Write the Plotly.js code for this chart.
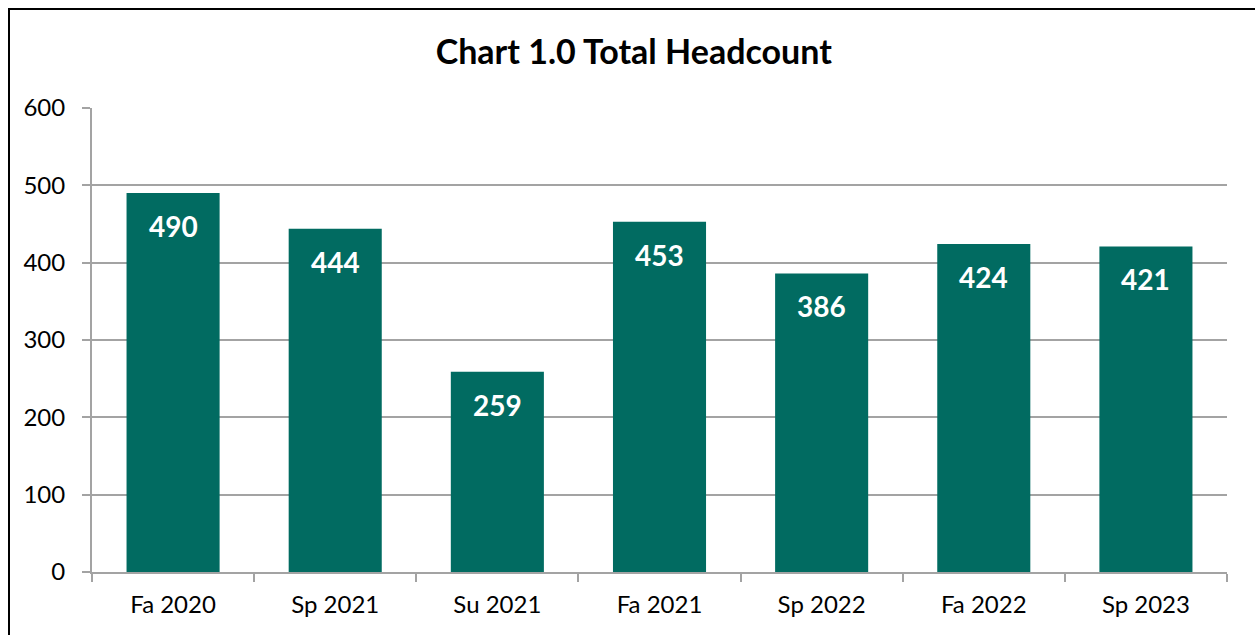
<!DOCTYPE html>
<html>
<head>
<meta charset="utf-8">
<script src="https://cdn.plot.ly/plotly-3.0.1.min.js"></script>
<style>
html,body{margin:0;padding:0;background:#fff;}
#chart{width:1255px;height:635px;}
</style>
</head>
<body>
<div id="chart"></div>
<script>
const categories = ["Fa 2020", "Sp 2021", "Su 2021", "Fa 2021", "Sp 2022", "Fa 2022", "Sp 2023"];
const headcount = [490, 444, 259, 453, 386, 424, 421];
const yTicks = [0, 100, 200, 300, 400, 500, 600];
const chartTitle = "Chart 1.0 Total Headcount";

const FONT = "Lato, Carlito, Calibri, 'Open Sans', sans-serif";
const BAR = "#016B61";
const GRID = "#a3a3a3";

const trace = {
  type: "bar",
  x: categories,
  y: headcount,
  marker: {color: BAR, line: {width: 0}},
  hoverinfo: "x+y"
};

const annotations = categories.map((c, i) => ({
  x: c, y: headcount[i], xref: "x", yref: "y",
  text: "<b>" + headcount[i] + "</b>",
  showarrow: false, yanchor: "top", yshift: -14,
  font: {family: FONT, size: 28, color: "#ffffff"}
}));

const layout = {
  width: 1255, height: 635,
  margin: {l: 92, r: 28, t: 108, b: 63},
  paper_bgcolor: "#ffffff", plot_bgcolor: "#ffffff",
  bargap: 0.426,
  showlegend: false,
  title: {
    text: "<b>" + chartTitle + "</b>",
    font: {family: FONT, size: 34, color: "#000000"},
    x: 0.505, xanchor: "center", y: 0.918, yanchor: "middle"
  },
  xaxis: {
    type: "category",
    showgrid: false,
    showline: true, linecolor: GRID, linewidth: 2,
    ticks: "outside", tickson: "boundaries", ticklen: 8, tickcolor: GRID, tickwidth: 2,
    tickfont: {family: FONT, size: 24, color: "#000000"},
    ticklabelstandoff: 10,
    fixedrange: true
  },
  yaxis: {
    range: [0, 600],
    tickvals: yTicks,
    showgrid: true, gridcolor: GRID, gridwidth: 2,
    zeroline: false,
    showline: true, linecolor: GRID, linewidth: 2,
    ticks: "outside", ticklen: 8, tickcolor: GRID, tickwidth: 2,
    tickfont: {family: FONT, size: 24, color: "#000000"},
    ticklabelstandoff: 12,
    fixedrange: true
  },
  annotations: annotations,
  shapes: [{
    type: "rect", xref: "paper", yref: "paper",
    x0: (9 - 92) / 1135, x1: 1.2,
    y0: -0.3, y1: (572 - 9) / 464,
    line: {color: "#000000", width: 2}, fillcolor: "rgba(0,0,0,0)", layer: "above"
  }]
};

Plotly.newPlot("chart", [trace], layout, {displayModeBar: false, staticPlot: true});
</script>
</body>
</html>
